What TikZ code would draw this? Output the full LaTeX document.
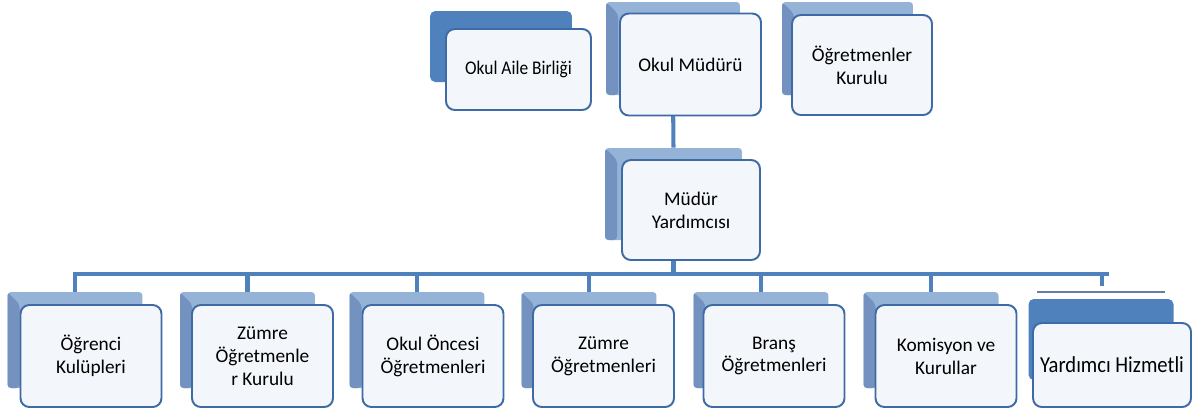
\documentclass[tikz,border=0pt]{standalone}
\usepackage{fontspec}
\setmainfont{Carlito}
\newfontfamily\narrowfont{Carlito}[FakeStretch=0.9]
\usepackage{tikz}
\definecolor{barblue}{RGB}{79,129,189}
\definecolor{frontline}{RGB}{62,106,165}
\definecolor{frontfill}{RGB}{243,246,251}
\definecolor{backfill}{RGB}{149,179,215}
\definecolor{bevel}{RGB}{116,146,191}
\definecolor{darkfill}{RGB}{79,129,189}

\begin{document}
\begin{tikzpicture}[x=0.02cm,y=-0.02cm,
  bar/.style={draw=barblue,line width=2.3pt},
  card/.style={draw=frontline,fill=frontfill,line width=1.1pt,rounded corners=5pt,minimum width=2.82cm,minimum height=2.04cm,align=center,inner sep=2pt,font=\fontsize{11}{13}\selectfont},
  back/.style={fill=backfill,rounded corners=2pt,inner sep=0pt,minimum width=2.7cm,minimum height=1.86cm,path picture={\fill[bevel] (path picture bounding box.north west) -- ++(0.24cm,-0.24cm) |- (path picture bounding box.south west) -- cycle;}},
  darkback/.style={fill=darkfill,rounded corners=3pt,inner sep=0pt}]
\useasboundingbox (0,0) rectangle (1193,414);
\node[darkback,minimum width=2.84cm,minimum height=1.42cm] (baile) at (501,46.5) {};
\node[back,minimum width=2.68cm] (bmudur) at (673,48.5) {};
\node[back,minimum width=2.62cm] (bkurul) at (847.5,48.5) {};
\node[back,minimum width=2.74cm,minimum height=1.84cm] (byard) at (673.5,194) {};
\foreach \n/\x in {ogr/75,zok/247.5,oncesi/417,zumre/589,brans/761,komisyon/931}
  \node[back,minimum height=1.92cm] (b\n) at (\x,340) {};
\node[darkback,minimum width=2.9cm,minimum height=1.62cm] (bhizmet) at (1101,339.5) {};
\coordinate (busL) at (73,274);
\coordinate (busR) at (1109,274);
\coordinate (hiztop) at (1102,286);
\draw[bar] (bmudur.south) -- (byard.north);
\draw[bar] (byard.south) -- (byard.south |- busL);
\draw[bar] (busL) -- (busR);
\foreach \n in {ogr,zok,oncesi,zumre,brans,komisyon}
  \draw[bar] (b\n.north |- busL) -- (b\n.north);
\draw[bar] (hiztop |- busL) -- (hiztop);
\draw[barblue!55!gray,line width=0.6pt] (1037,292) -- (1165,292);
\node[card,minimum width=2.9cm,minimum height=1.62cm,font=\narrowfont\fontsize{11}{13}\selectfont] (aile) at (518.5,69.5) {Okul Aile Birliği};
\node[card] (mudur) at (690.5,64.5) {Okul Müdürü};
\node[card,minimum width=2.8cm,minimum height=2cm] (kurul) at (862,65) {Öğretmenler\\Kurulu};
\node[card,minimum width=2.76cm,minimum height=2cm] (yard) at (691,210) {Müdür\\Yardımcısı};
\node[card] (ogr) at (91,356) {Öğrenci\\Kulüpleri};
\node[card] (zok) at (262.5,356) {Zümre\\Öğretmenle\\r Kurulu};
\node[card] (oncesi) at (433,356) {Okul Öncesi\\Öğretmenleri};
\node[card] (zumre) at (603.5,356) {Zümre\\Öğretmenleri};
\node[card] (brans) at (774,356) {Branş\\Öğretmenleri};
\node[card] (komisyon) at (946,356) {Komisyon ve\\Kurullar};
\node[card,minimum width=3.16cm,minimum height=1.68cm,font=\narrowfont\fontsize{13}{15}\selectfont] (hizmet) at (1112,365) {Yardımcı Hizmetli};
\end{tikzpicture}
\end{document}
